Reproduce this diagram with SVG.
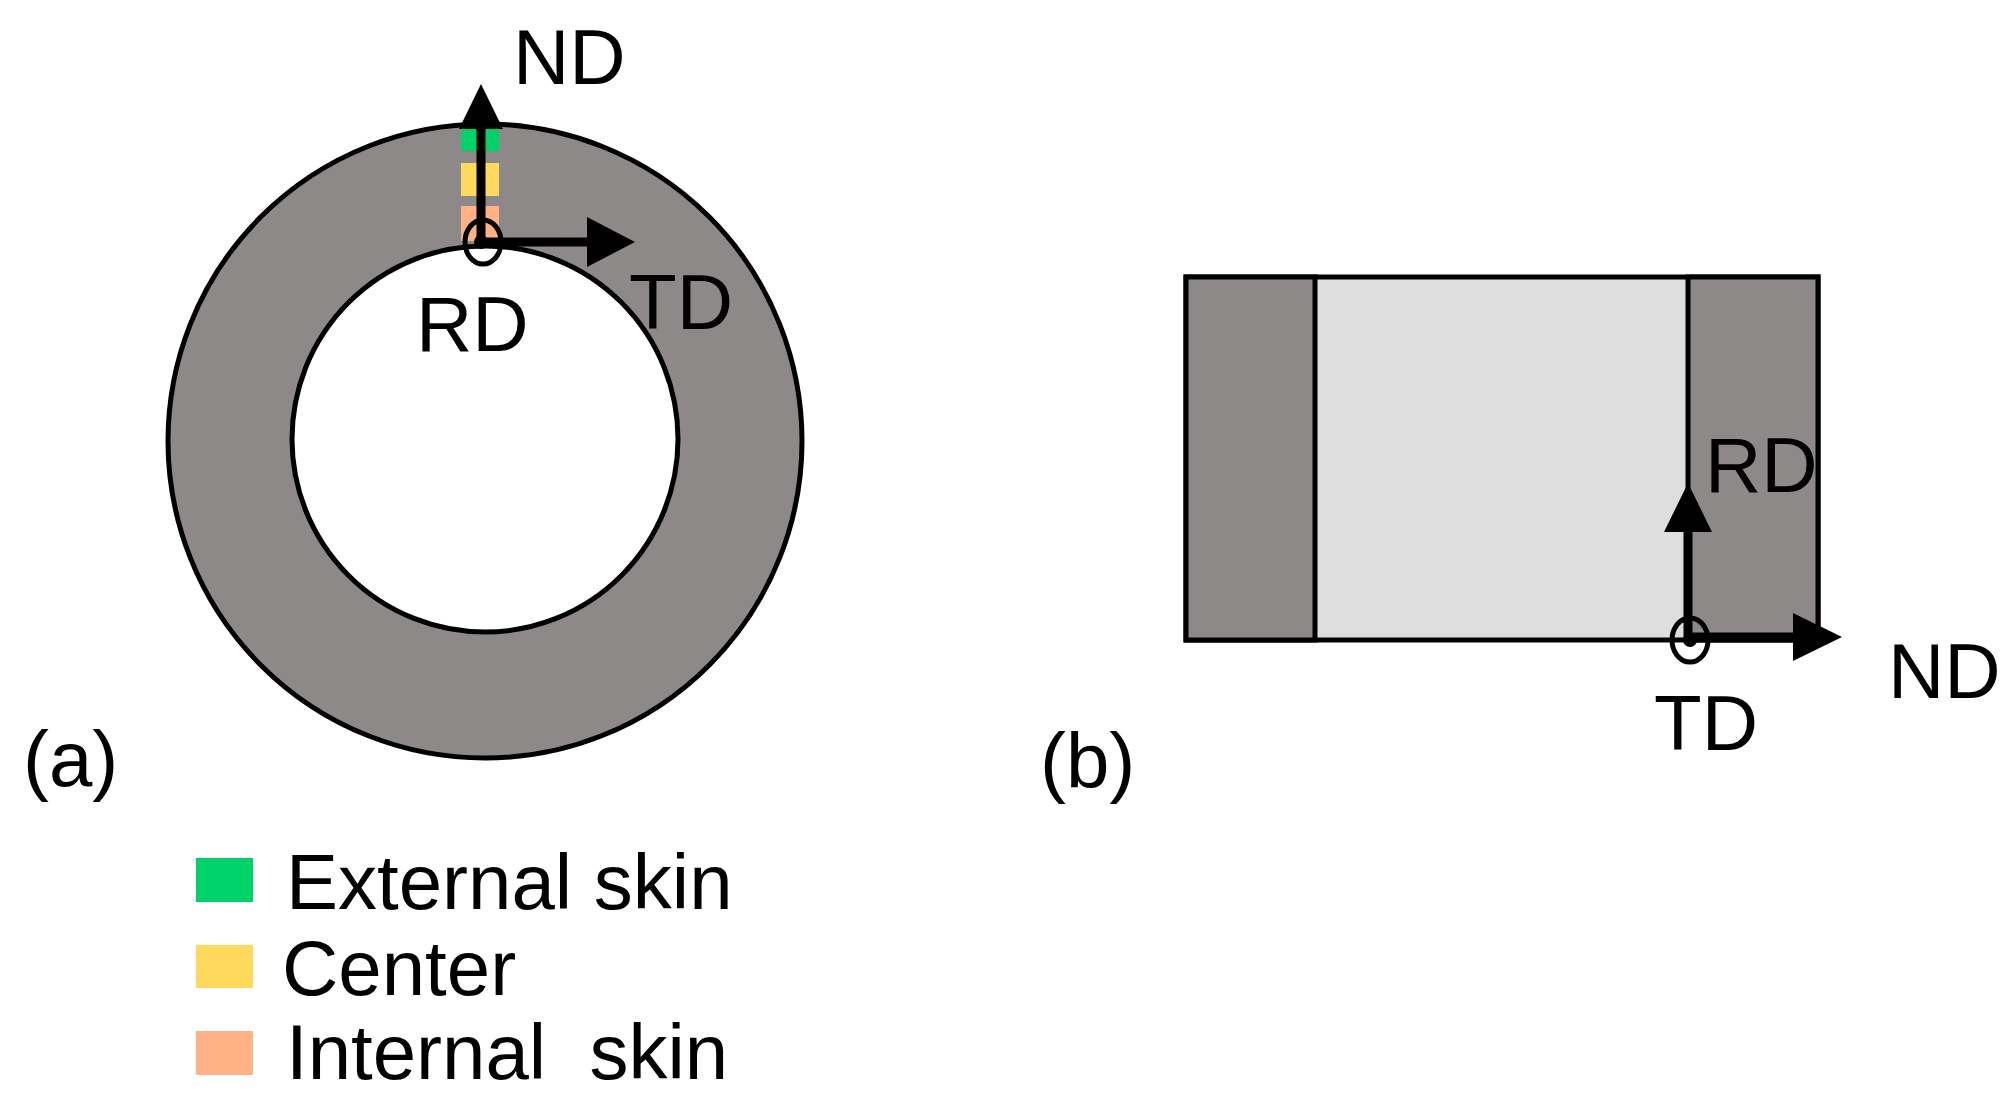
<svg xmlns="http://www.w3.org/2000/svg" width="2008" height="1104" viewBox="0 0 2008 1104">
<style>
text{font-family:"Liberation Sans",Arial,sans-serif;font-size:78px;fill:#000}
.dk{fill:#8e8989;stroke:#000;stroke-width:5}
.ax{stroke:#000;stroke-width:9;fill:none}
</style>
<rect width="2008" height="1104" fill="#fff"/>
<g id="ring">
<circle cx="485" cy="441" r="317" class="dk"/>
<circle cx="485" cy="439" r="193" fill="#fff" stroke="#000" stroke-width="5"/>
<rect x="461" y="129" width="38" height="22" fill="#00d26a"/>
<rect x="461" y="163" width="38" height="33" fill="#ffd95c"/>
<rect x="461" y="206" width="38" height="35" fill="#ffb185"/>
</g>
<g id="block">
<rect x="1186" y="277" width="632" height="363" fill="#dedede" stroke="#000" stroke-width="5"/>
<rect x="1186" y="277" width="129" height="363" class="dk"/>
<rect x="1688" y="277" width="130" height="363" class="dk"/>
</g>
<g id="connectors">
<line x1="481" y1="241" x2="481" y2="125" class="ax"/>
<polygon points="481,84 459,129 503,129"/>
<line x1="483" y1="242" x2="592" y2="242" class="ax"/>
<polygon points="635,242 587,217 587,267"/>
<ellipse cx="483" cy="242" rx="18" ry="22" fill="none" stroke="#000" stroke-width="5"/>
<circle cx="481" cy="242" r="7"/>
<line x1="1688" y1="640" x2="1688" y2="525" class="ax"/>
<polygon points="1688,483 1664,532 1712,532"/>
<line x1="1690" y1="637" x2="1800" y2="637" class="ax"/>
<polygon points="1842,637 1793,613 1793,661"/>
<ellipse cx="1690" cy="640" rx="18" ry="22" fill="none" stroke="#000" stroke-width="5"/>
<circle cx="1690" cy="640" r="7"/>
</g>
<g id="labels">
<text x="513" y="84">ND</text>
<text x="629" y="329">TD</text>
<text x="416" y="351">RD</text>
<text x="23" y="786">(a)</text>
<text x="1705" y="492">RD</text>
<text x="1888" y="698">ND</text>
<text x="1654" y="750">TD</text>
<text x="1040" y="788">(b)</text>
</g>
<g id="legend">
<rect x="196" y="858" width="57" height="44" fill="#00d26a"/>
<rect x="196" y="945" width="57" height="43" fill="#ffd95c"/>
<rect x="196" y="1031" width="57" height="44" fill="#ffb185"/>
<text x="286" y="909">External skin</text>
<text x="282" y="995">Center</text>
<text x="286" y="1079" xml:space="preserve">Internal  skin</text>
</g>
</svg>
